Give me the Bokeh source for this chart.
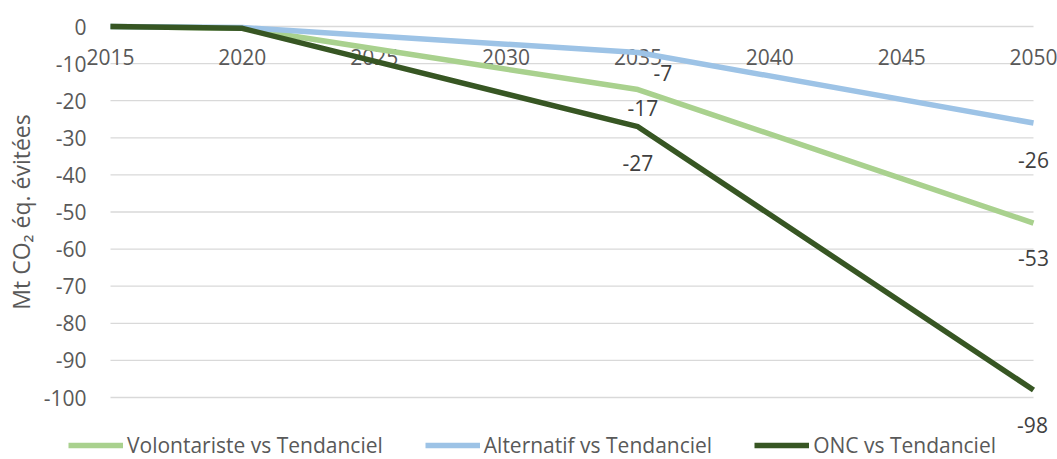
import math
from bokeh.plotting import figure
from bokeh.models import Range1d, Legend, LegendItem, ColumnDataSource
from bokeh.embed import file_html
from bokeh.resources import INLINE
from bokeh.core.properties import value

years = [2015, 2020, 2035, 2050]
volontariste = [0, -0.5, -17, -53]
alternatif = [0, -0.3, -7, -26]
onc = [0, -0.5, -27, -98]
x_ticks = [2015, 2020, 2025, 2030, 2035, 2040, 2045, 2050]
y_ticks = [0, -10, -20, -30, -40, -50, -60, -70, -80, -90, -100]
series_names = ["Volontariste vs Tendanciel", "Alternatif vs Tendanciel", "ONC vs Tendanciel"]
y_title = "Mt CO₂ éq. évitées"
colors = ["#A9D18E", "#9DC3E6", "#375623"]

FONT = "Open Sans"
FS = "21px"
TXT = "#595959"

# canvas geometry (pixels) of the plotting area
W, H = 1057, 459
PX_L, PX_R = 110, 1033      # x of first / last category
PY_T, PY_B = 26, 397        # y of 0 / -100
X0, X1 = x_ticks[0], x_ticks[-1]
Y0, Y1 = y_ticks[0], y_ticks[-1]
sx = (X1 - X0) / (PX_R - PX_L)
sy = (Y0 - Y1) / (PY_B - PY_T)

p = figure(width=W, height=H, output_backend="svg", toolbar_location=None,
           x_range=Range1d(X0 - PX_L * sx, X1 + (W - PX_R) * sx),
           y_range=Range1d(Y1 - (H - PY_B) * sy, Y0 + PY_T * sy),
           min_border=0)
p.outline_line_color = None
p.axis.visible = False
p.grid.visible = False
p.background_fill_color = "white"

# horizontal gridlines
p.segment(x0=[X0] * len(y_ticks), x1=[X1] * len(y_ticks), y0=y_ticks, y1=y_ticks,
          line_color="#D9D9D9", line_width=1.3)

# y tick labels
p.text(x=[X0] * len(y_ticks), y=y_ticks, text=[str(t) for t in y_ticks],
       text_font=value(FONT), text_font_size=FS, text_color=TXT,
       text_align="right", text_baseline="middle", x_offset=-24)

# y axis title
p.text(x=[X0], y=[(Y0 + Y1) / 2], text=[y_title], angle=math.pi / 2,
       text_font=value(FONT), text_font_size="23px", text_color=TXT,
       text_align="center", text_baseline="middle", x_offset=-90)

# category labels along the zero line
p.text(x=x_ticks, y=[0] * len(x_ticks), text=[str(t) for t in x_ticks],
       text_font=value(FONT), text_font_size=FS, text_color=TXT,
       text_align="center", text_baseline="middle", y_offset=30)

renderers = []
for ys, c in zip([volontariste, alternatif, onc], colors):
    r = p.line(years, ys, line_color=c, line_width=5.5)
    renderers.append(r)

# data labels (2035 and 2050 values)
lab_y = [alternatif[2], volontariste[2], onc[2], alternatif[3], volontariste[3], onc[3]]
lab_src = ColumnDataSource(dict(
    x=[2035, 2035, 2035, 2050, 2050, 2050],
    y=lab_y,
    t=[str(v) for v in lab_y],
    dx=[25, 5, 0, 0, 0, -1],
    dy=[21, 18, 36, 37, 35, 35],
))
p.text(x="x", y="y", text="t", source=lab_src, x_offset="dx", y_offset="dy",
       text_font=value(FONT), text_font_size=FS, text_color="#404040",
       text_align="center", text_baseline="middle")

legend = Legend(items=[LegendItem(label=n, renderers=[r]) for n, r in zip(series_names, renderers)],
                orientation="horizontal", location=(68, 0))
legend.border_line_color = None
legend.background_fill_alpha = 0
legend.label_text_font = FONT
legend.label_text_font_size = FS
legend.label_text_color = TXT
legend.glyph_width = 55
legend.label_standoff = 4
legend.spacing = 42
legend.padding = 0
legend.margin = 0
p.add_layout(legend)

open("out.html", "w").write(file_html(p, INLINE))
